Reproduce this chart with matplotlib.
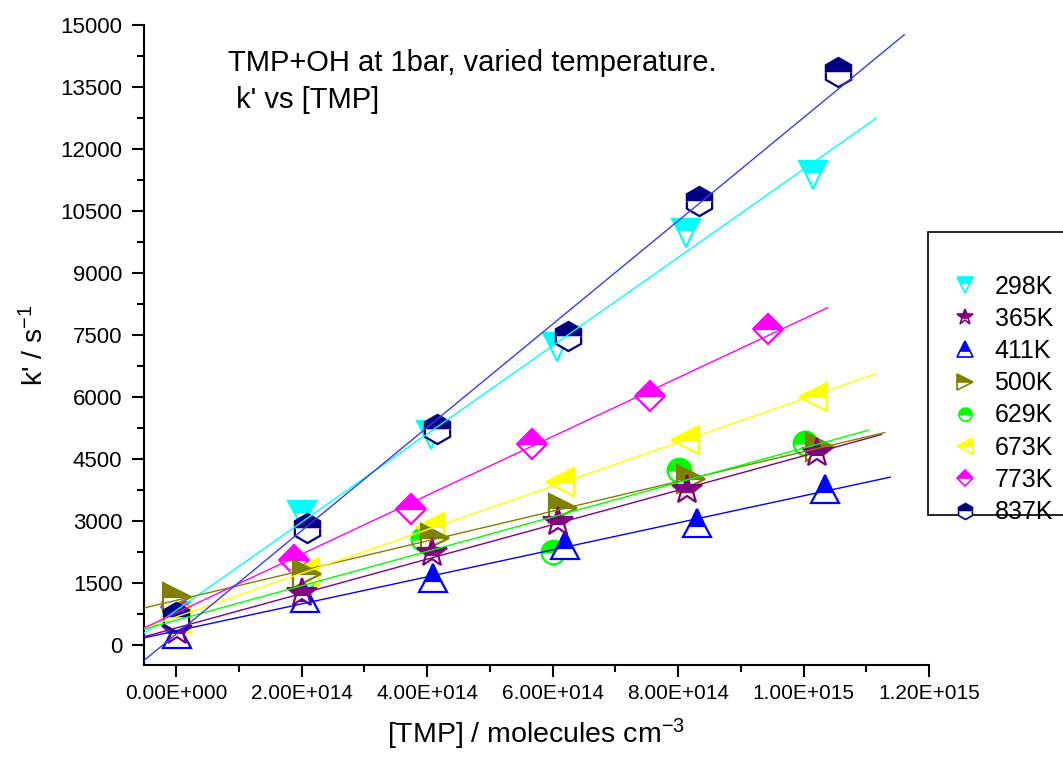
import numpy as np
import matplotlib
matplotlib.use("Agg")
import matplotlib.pyplot as plt
from matplotlib.lines import Line2D
from matplotlib.patches import Rectangle
from matplotlib.ticker import MultipleLocator, FuncFormatter

plt.rcParams['font.family'] = ['Liberation Sans', 'DejaVu Sans']
plt.rcParams['mathtext.fontset'] = 'custom'
plt.rcParams['mathtext.rm'] = 'Liberation Sans'
plt.rcParams['mathtext.it'] = 'Liberation Sans:italic'

# [TMP] (molecules cm^-3) and k' (s^-1) for each temperature
temps = ["298K", "365K", "411K", "500K", "629K", "673K", "773K", "837K"]

x_298 = [0.00e14, 2.00e14, 4.06e14, 6.07e14, 8.13e14, 1.015e15]
y_298 = [700, 3150, 5080, 7210, 9970, 11370]

x_365 = [0.01e14, 2.00e14, 4.08e14, 6.09e14, 8.15e14, 1.022e15]
y_365 = [340, 1260, 2225, 2975, 3760, 4645]

x_411 = [0.02e14, 2.05e14, 4.10e14, 6.20e14, 8.30e14, 1.035e15]
y_411 = [280, 1150, 1620, 2420, 2950, 3780]

x_500 = [0.01e14, 2.09e14, 4.13e14, 6.17e14, 8.20e14, 1.027e15]
y_500 = [1160, 1720, 2590, 3310, 4020, 4790]

x_629 = [0.00e14, 2.04e14, 3.94e14, 6.01e14, 8.02e14, 1.003e15]
y_629 = [520, 1660, 2570, 2250, 4230, 4890]

x_673 = [0.00e14, 2.05e14, 4.05e14, 6.12e14, 8.11e14, 1.015e15]
y_673 = [640, 1770, 2855, 3945, 4960, 6000]

x_773 = [0.00e14, 1.88e14, 3.75e14, 5.67e14, 7.56e14, 9.44e14]
y_773 = [920, 2060, 3290, 4860, 6020, 7640]

x_837 = [0.00e14, 2.09e14, 4.16e14, 6.25e14, 8.34e14, 1.055e15]
y_837 = [680, 2830, 5225, 7475, 10740, 13860]

xs = [x_298, x_365, x_411, x_500, x_629, x_673, x_773, x_837]
ys = [y_298, y_365, y_411, y_500, y_629, y_673, y_773, y_837]

marker_colors = ["#00FFFF", "#800080", "#0000FF", "#808000",
                 "#00FF00", "#FFFF00", "#FF00FF", "#000080"]
line_colors = ["#00FFFF", "#800080", "#0000FF", "#808000",
               "#00FF00", "#FFFF00", "#FF00FF", "#3A3AF0"]
markers = ["v", "*", "^", ">", "o", "<", "D", "h"]
msizes = [20, 22, 20, 20, 17, 20, 15, 21]
# stacking of the symbol sets (higher sits on top)
stack = [1, 7, 5, 6, 3, 4, 2, 8]

fig = plt.figure(figsize=(10.63, 7.58), dpi=100)
ax = fig.add_axes([144 / 1063, 93 / 758, (929 - 144) / 1063, (665 - 25) / 758])

for xv, yv, mk, mc, ms, z in zip(xs, ys, markers, marker_colors, msizes, stack):
    ax.plot(xv, yv, linestyle="none", marker=mk, markersize=ms,
            color=mc, markerfacecolor=mc, markerfacecoloralt="white",
            markeredgecolor=mc, fillstyle="top", markeredgewidth=1.6,
            zorder=2 + 0.1 * z, clip_on=False)

# straight-line fits, extended 10% of the data span on either side
for xv, yv, lc in zip(xs, ys, line_colors):
    xa = np.asarray(xv)
    slope, icpt = np.polyfit(xa, np.asarray(yv), 1)
    span = xa.max() - xa.min()
    xl = np.array([xa.min() - 0.1 * span, xa.max() + 0.1 * span])
    ax.plot(xl, slope * xl + icpt, color=lc, linewidth=1.0, zorder=4)

ax.set_xlim(-0.51e14, 1.2e15)
ax.set_ylim(-480, 15000)

for side in ("top", "right"):
    ax.spines[side].set_visible(False)
for side in ("left", "bottom"):
    ax.spines[side].set_linewidth(1.5)

ax.xaxis.set_major_locator(MultipleLocator(2e14))
ax.xaxis.set_minor_locator(MultipleLocator(1e14))
ax.yaxis.set_major_locator(MultipleLocator(1500))
ax.yaxis.set_minor_locator(MultipleLocator(750))


def sci_fmt(v, pos):
    if abs(v) < 1:
        return "0.00E+000"
    e = int(np.floor(np.log10(abs(v)) + 1e-9))
    m = v / 10 ** e
    return f"{m:.2f}E+{e:03d}"


ax.xaxis.set_major_formatter(FuncFormatter(sci_fmt))
ax.tick_params(axis="both", which="major", direction="out", length=8.5, width=1.5)
ax.tick_params(axis="both", which="minor", direction="out", length=5, width=1.5)
ax.tick_params(axis="x", labelsize=15, pad=5)
ax.tick_params(axis="y", labelsize=16, pad=7)
ax.set_xticks([v for v in np.arange(0, 1.21e15, 2e14)])

ax.set_xlabel("[TMP] / molecules cm$^{-3}$", fontsize=20.5, labelpad=10)
ax.set_ylabel("k' / s$^{-1}$", fontsize=20.5, labelpad=8)

fig.text(228 / 1063, 1 - 63 / 758, "TMP+OH at 1bar, varied temperature.",
         fontsize=21, va="center", ha="left")
fig.text(228 / 1063, 1 - 100 / 758, " k' vs [TMP]",
         fontsize=21, va="center", ha="left")

# legend frame and entries
fig.add_artist(Rectangle((928 / 1063, 1 - 515 / 758), 0.2, (515 - 232) / 758,
                         transform=fig.transFigure, facecolor="white",
                         edgecolor="black", linewidth=1.2, zorder=5))
handles = [Line2D([], [], linestyle="none", marker=mk, markersize=ms * 0.55,
                  color=mc, markerfacecolor=mc, markerfacecoloralt="white",
                  markeredgecolor=mc, fillstyle="top", markeredgewidth=1.2)
           for mk, mc, ms in zip(markers, marker_colors, msizes)]
leg = fig.legend(handles, temps, loc="upper left",
                 bbox_to_anchor=(937 / 1063, 1 - 262 / 758),
                 frameon=False, fontsize=18, handlelength=1.2,
                 handletextpad=0.6, labelspacing=0.33, borderpad=0)
leg.set_zorder(6)

fig.savefig("out.png", dpi=100)
